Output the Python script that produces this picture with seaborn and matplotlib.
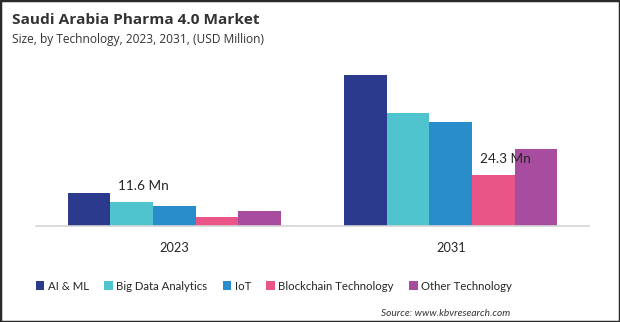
import matplotlib
matplotlib.use("Agg")
import matplotlib.pyplot as plt
from matplotlib.patches import Rectangle
import seaborn as sns
import pandas as pd

years = ["2023", "2031"]
technologies = ["AI & ML", "Big Data Analytics", "IoT", "Blockchain Technology", "Other Technology"]
values_2023 = [15.8, 11.6, 9.5, 4.2, 7.1]
values_2031 = [72.6, 54.3, 50.0, 24.3, 37.0]
colors = ["#2c3a8e", "#4fc4ce", "#2a8dcb", "#ea5588", "#a84ca0"]
labels = [("2023", "Big Data Analytics", "11.6 Mn"), ("2031", "Blockchain Technology", "24.3 Mn")]

rows = []
for y, vals in zip(years, [values_2023, values_2031]):
    for t, v in zip(technologies, vals):
        rows.append({"Year": y, "Technology": t, "Value": v})
df = pd.DataFrame(rows)

sns.set_theme(style="white")
plt.rcParams["font.family"] = ["Lato", "DejaVu Sans"]

fig = plt.figure(figsize=(6.2, 3.22), dpi=100)
ax = fig.add_axes([36 / 620, 1 - 225.7 / 322, (589 - 36) / 620, (225.7 - 60) / 322])
sns.barplot(data=df, x="Year", y="Value", hue="Technology", order=years,
            hue_order=technologies, palette=colors, width=0.77, saturation=1,
            linewidth=0, ax=ax)
ax.set_xlim(-0.5, 1.5)
ax.set_ylim(0, 79.8)
for s in ["top", "right", "left"]:
    ax.spines[s].set_visible(False)
ax.spines["bottom"].set_color("#d4d4d4")
ax.spines["bottom"].set_linewidth(1.2)
ax.set_yticks([])
ax.set_xlabel("")
ax.set_ylabel("")
ax.tick_params(axis="x", length=0, pad=12, labelsize=9.2, labelcolor="#262626")

for yr, tech, txt in labels:
    hi = technologies.index(tech)
    ci = years.index(yr)
    bar = ax.containers[hi][ci]
    cx = bar.get_x() + bar.get_width() / 2
    ax.annotate(txt, xy=(cx, bar.get_height()), xytext=(12, 10), textcoords="offset pixels",
                ha="center", va="bottom", fontsize=9.8, color="#262626")

handles, lbls = ax.get_legend_handles_labels()
ax.get_legend().remove()
fig.legend(handles, lbls, loc="center", bbox_to_anchor=(274 / 620, 1 - 286 / 322), ncol=5,
           frameon=False, handlelength=0.75, handleheight=0.75, handletextpad=0.3,
           columnspacing=1.35, fontsize=8.2, labelcolor="#262626")

fig.text(12 / 620, 1 - 20 / 322, "Saudi Arabia Pharma 4.0 Market", fontsize=11.1,
         fontweight="bold", color="#333333", va="center", ha="left", family=["Open Sans", "DejaVu Sans"])
fig.text(12 / 620, 1 - 40 / 322, "Size, by Technology, 2023, 2031, (USD Million)", fontsize=8.6,
         color="#333333", va="center", ha="left", family=["Open Sans", "DejaVu Sans"])
fig.text(510 / 620, 1 - 313 / 322, "Source: www.kbvresearch.com", fontsize=7.3, style="italic",
         color="#333333", va="center", ha="right")

fig.patches.append(Rectangle((0, 0), 1, 1, transform=fig.transFigure, fill=False,
                             edgecolor="#2a2a2a", linewidth=2.5, zorder=10))
fig.savefig("out.png", dpi=100)
